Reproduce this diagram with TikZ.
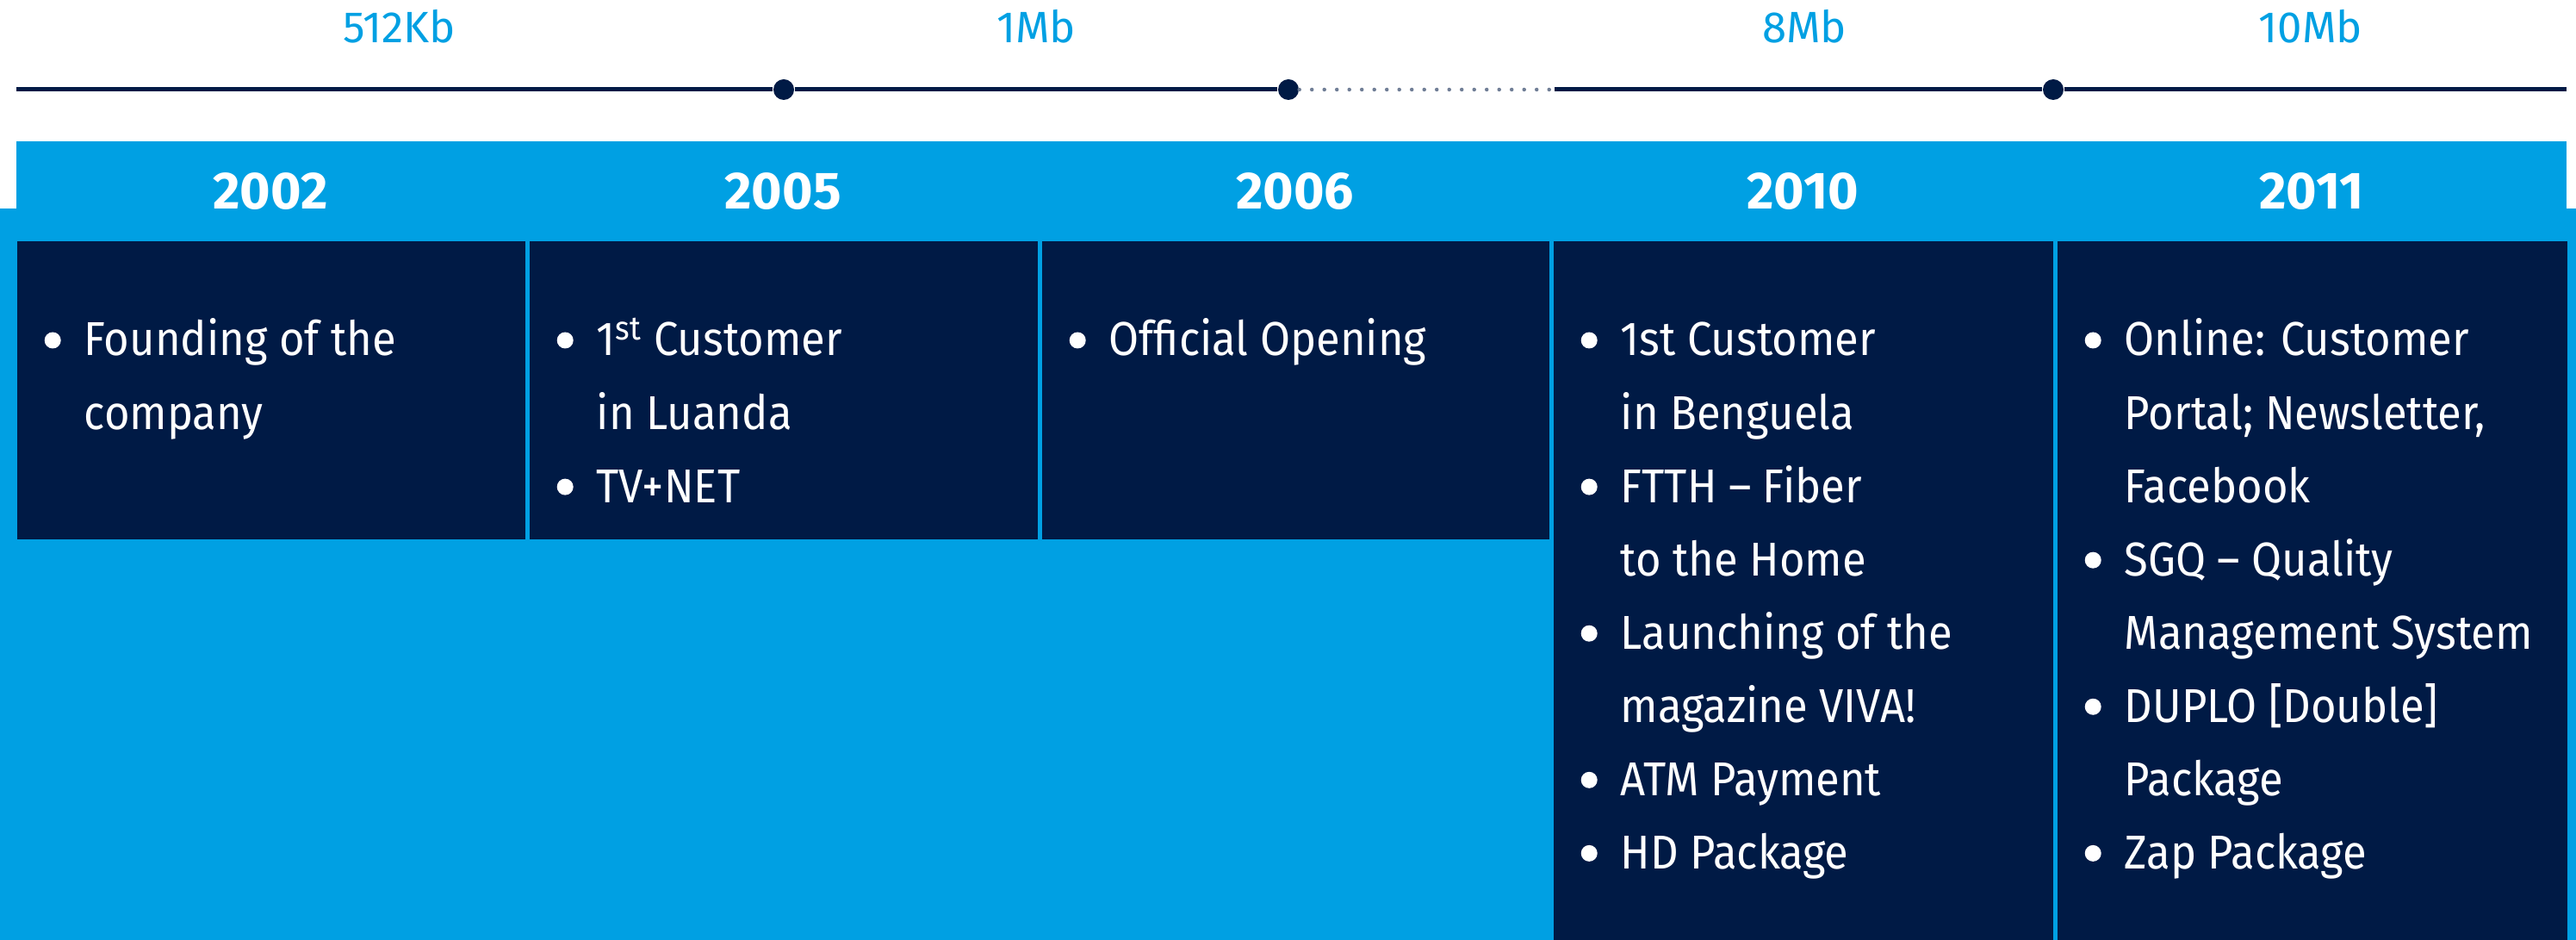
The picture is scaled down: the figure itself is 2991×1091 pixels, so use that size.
\documentclass[tikz,border=0pt]{standalone}
\usepackage{fontspec}
\setmainfont{Fira Sans}
\newfontfamily\eventfont{Fira Sans}[FakeStretch=0.92, Ligatures=TeX]
\usetikzlibrary{positioning}
\definecolor{skyblue}{RGB}{0,160,227}
\definecolor{navy}{RGB}{0,26,69}
\definecolor{dotgray}{RGB}{112,126,150}
\newcommand\itm{\makebox[4.6mm][l]{\tikz[baseline=0pt]\fill[white] (0.95mm,1.8mm) circle (0.95mm);}}
\newcommand\cont{\hspace*{4.6mm}}
\newcommand\events[1]{\begin{tabular}[t]{@{}l@{}}#1\end{tabular}}
\tikzset{
  speedlabel/.style={text=skyblue, anchor=base, inner sep=0pt,
    font=\fontsize{14.5pt}{17pt}\selectfont},
  yearlabel/.style={text=white, anchor=base, inner sep=0pt,
    font=\fontsize{17.3pt}{20pt}\selectfont\bfseries},
  eventbox/.style={fill=navy, anchor=north west, inner sep=0pt},
  eventtext/.style={text=white, anchor=base west, inner sep=0pt,
    font=\eventfont\fontsize{15.7pt}{24.2pt}\selectfont},
  milestone/.style={circle, fill=navy, minimum size=2.4mm, inner sep=0pt},
}
\begin{document}
\begin{tikzpicture}[x=0.1mm, y=-0.1mm]
  \useasboundingbox (0,0) rectangle (2991,1091);
  % background band
  \fill[skyblue] (19,164) rectangle (2980,1091);
  \fill[skyblue] (0,242) rectangle (2991,1091);

  % speed line
  \coordinate (tlstart) at (19,104);
  \coordinate (tlgap) at (1805,104);
  \coordinate (tlend) at (2980,104);
  \node[milestone] (d2005) at (910,104) {};
  \node[milestone] (d2006) at (1496,104) {};
  \node[milestone] (d2010) at (2384,104) {};
  \draw[navy, line width=0.5mm] (tlstart) -- (d2005) -- (d2006);
  \draw[dotgray, line width=0.45mm, line cap=round,
    dash pattern=on 0pt off 1.45mm] (d2006) -- (tlgap);
  \draw[navy, line width=0.5mm] (tlgap) -- (d2010) -- (tlend);

  \node[speedlabel] (s512) at (464,50) {512Kb};
  \node[speedlabel] (s1) at (1203,50) {1Mb};
  \node[speedlabel] (s8) at (2095,50) {8Mb};
  \node[speedlabel] (s10) at (2683,50) {10Mb};

  % columns
  \foreach \x/\w/\h/\yr in {19/590/346/2002, 614/590/346/2005,
    1209/589/346/2006, 1803/580/812/2010, 2388/592/812/2011}
  {
    \node[eventbox, minimum width=\w*0.1mm, minimum height=\h*0.1mm]
      (box\yr) at (\x,279) {};
    \node[yearlabel] (y\yr) at (\x+\w/2,243) {\yr};
  }

  % events, first baseline at 413
  \node[eventtext] (t2002) at (51,413)
    {\events{\itm Founding of the\\ \cont company}};
  \node[eventtext] (t2005) at (646,413)
    {\events{\itm 1\textsuperscript{st} Customer\\ \cont in Luanda\\ \itm TV+NET}};
  \node[eventtext] (t2006) at (1241,413)
    {\events{\itm Official Opening}};
  \node[eventtext] (t2010) at (1835,413)
    {\events{\itm 1st Customer\\ \cont in Benguela\\ \itm FTTH – Fiber\\
     \cont to the Home\\ \itm Launching of the\\ \cont magazine VIVA!\\
     \itm ATM Payment\\ \itm HD Package}};
  \node[eventtext] (t2011) at (2420,413)
    {\events{\itm Online: Customer\\ \cont Portal; Newsletter,\\ \cont Facebook\\
     \itm SGQ – Quality\\ \cont Management System\\ \itm DUPLO [Double]\\
     \cont Package\\ \itm Zap Package}};
\end{tikzpicture}
\end{document}
